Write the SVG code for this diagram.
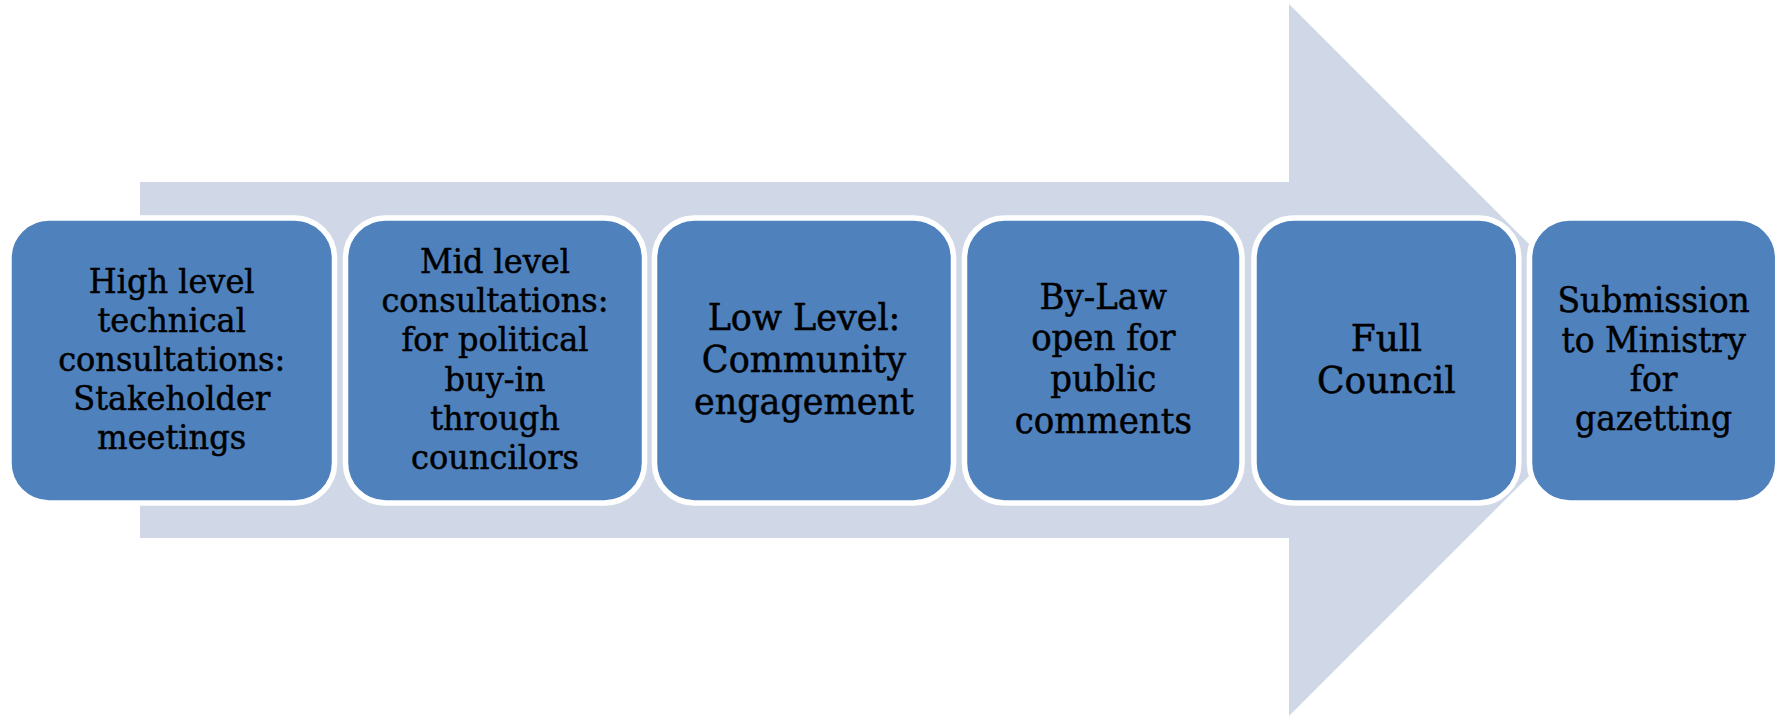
<svg xmlns="http://www.w3.org/2000/svg" width="1783" height="719" viewBox="0 0 1783 719">
<style>
.box{fill:#4F81BD;stroke:#FFFFFF;stroke-width:5.5}
.lbl{font-family:"DejaVu Serif","Liberation Serif",serif;fill:#000000;stroke:#000000;stroke-width:0.5;text-anchor:middle}
.s32{font-size:32px}
.s33{font-size:33px}
.s34{font-size:34px}
.s35{font-size:35px}
.s36{font-size:36px}
</style>
<rect width="1783" height="719" fill="#FFFFFF"/>
<g id="arrow">
<polygon points="140,182 1289,182 1289,4 1645,360 1289,716 1289,538 140,538" fill="#D0D8E8"/>
</g>
<g id="connectors"></g>
<g id="node1">
<rect class="box" x="9" y="218" width="325.5" height="285" rx="40"/>
<text class="lbl s32" transform="translate(171.7,293.3) scale(1,1.06)">High level</text>
<text class="lbl s32" transform="translate(171.7,332) scale(1,1.06)">technical</text>
<text class="lbl s32" transform="translate(171.7,371) scale(1,1.06)">consultations:</text>
<text class="lbl s32" transform="translate(171.7,410) scale(1,1.06)">Stakeholder</text>
<text class="lbl s32" transform="translate(171.7,448.5) scale(1,1.06)">meetings</text>
</g>
<g id="node2">
<rect class="box" x="345.5" y="218" width="299" height="285" rx="40"/>
<text class="lbl s32" transform="translate(495,272.7) scale(1,1.06)">Mid level</text>
<text class="lbl s32" transform="translate(495,312) scale(1,1.06)">consultations:</text>
<text class="lbl s32" transform="translate(495,351) scale(1,1.06)">for political</text>
<text class="lbl s32" transform="translate(495,391) scale(1,1.06)">buy-in</text>
<text class="lbl s32" transform="translate(495,430) scale(1,1.06)">through</text>
<text class="lbl s32" transform="translate(495,469.3) scale(1,1.06)">councilors</text>
</g>
<g id="node3">
<rect class="box" x="654.5" y="218" width="299" height="285" rx="40"/>
<text class="lbl s35" transform="translate(804,330) scale(1,1.06)">Low Level:</text>
<text class="lbl s35" transform="translate(804,372) scale(1,1.06)">Community</text>
<text class="lbl s35" transform="translate(804,414) scale(1,1.06)">engagement</text>
</g>
<g id="node4">
<rect class="box" x="964.5" y="218" width="277.5" height="285" rx="40"/>
<text class="lbl s34" transform="translate(1103.3,309) scale(1,1.06)">By-Law</text>
<text class="lbl s34" transform="translate(1103.3,350) scale(1,1.06)">open for</text>
<text class="lbl s34" transform="translate(1103.3,391) scale(1,1.06)">public</text>
<text class="lbl s34" transform="translate(1103.3,433) scale(1,1.06)">comments</text>
</g>
<g id="node5">
<rect class="box" x="1254" y="218" width="264.8" height="285" rx="40"/>
<text class="lbl s36" transform="translate(1386.3,350.7) scale(1,1.06)">Full</text>
<text class="lbl s36" transform="translate(1386.3,393.3) scale(1,1.06)">Council</text>
</g>
<g id="node6">
<rect class="box" x="1529.5" y="218" width="248.2" height="285" rx="40"/>
<text class="lbl s33" transform="translate(1653.6,312.3) scale(1,1.06)">Submission</text>
<text class="lbl s33" transform="translate(1653.6,351.7) scale(1,1.06)">to Ministry</text>
<text class="lbl s33" transform="translate(1653.6,390.7) scale(1,1.06)">for</text>
<text class="lbl s33" transform="translate(1653.6,430) scale(1,1.06)">gazetting</text>
</g>
</svg>
